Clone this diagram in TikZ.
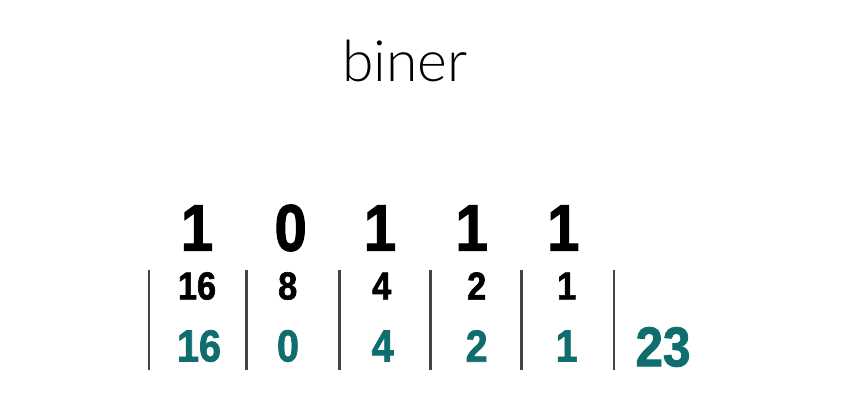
\documentclass[tikz,border=0pt]{standalone}
\usepackage{fontspec}
\setmainfont{Liberation Sans}
\newfontfamily\lightfont{Lato Light}
\newfontfamily\heavyfont[FakeBold=1.6,FakeStretch=0.88]{Liberation Sans Bold}
\definecolor{tealnum}{HTML}{0F6E6D}
\definecolor{bargray}{HTML}{444444}
\begin{document}
\begin{tikzpicture}[x=1pt,y=-1pt,
  bit/.style={inner sep=0pt,font=\heavyfont\fontsize{66}{66}\selectfont,text=black},
  weight/.style={inner sep=0pt,font=\heavyfont\fontsize{39}{39}\selectfont,text=black},
  val/.style={inner sep=0pt,font=\heavyfont\fontsize{45}{45}\selectfont,text=tealnum},
  total/.style={inner sep=0pt,font=\heavyfont\fontsize{56}{56}\selectfont,text=tealnum},
  sep/.style={draw=bargray,line width=2.5pt}]
\useasboundingbox (0,0) rectangle (862,415);
\node[inner sep=0pt,anchor=base,font=\lightfont\fontsize{57}{57}\selectfont] (title) at (405,81.7) {biner};
% bits
\node[bit] (b4) at (197,228) {1};
\node[bit] (b3) at (290.7,228) {0};
\node[bit] (b2) at (380,228) {1};
\node[bit] (b1) at (471.7,228) {1};
\node[bit] (b0) at (563.3,228) {1};
% weights
\node[weight] (w4) at (197,286) {16};
\node[weight] (w3) at (287.7,286) {8};
\node[weight] (w2) at (381.7,286) {4};
\node[weight] (w1) at (476.7,286) {2};
\node[weight] (w0) at (566.7,286) {1};
% values
\node[val] (v4) at (199,346) {16};
\node[val] (v3) at (288,346) {0};
\node[val] (v2) at (382.7,346) {4};
\node[val] (v1) at (476.7,346) {2};
\node[val] (v0) at (566.7,346) {1};
\node[total] (sum) at (663,347) {23};
% separators
\foreach \x [count=\i] in {149,246.7,339.3,430.7,521.7,614}{
  \coordinate (t\i) at (\x,270);
  \coordinate (s\i) at (\x,370);
  \draw[sep] (t\i) -- (s\i);
}
\end{tikzpicture}
\end{document}
